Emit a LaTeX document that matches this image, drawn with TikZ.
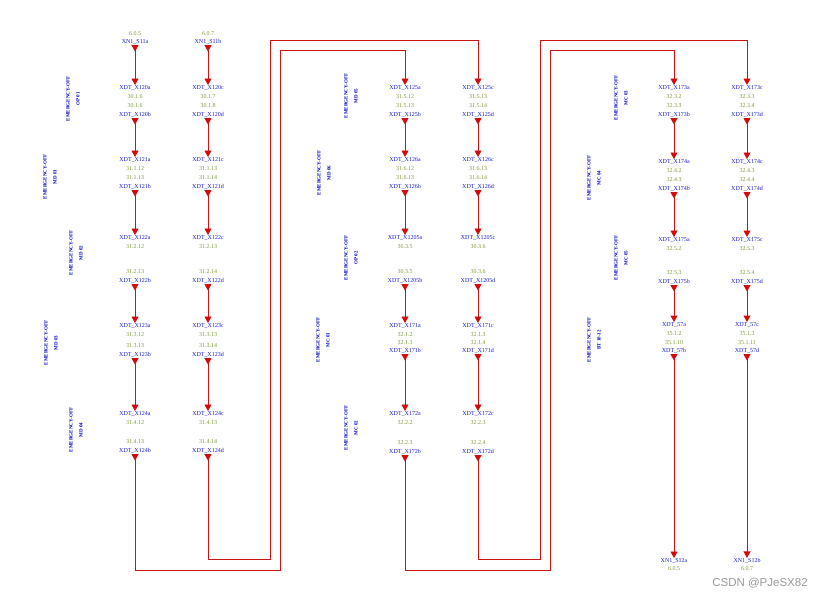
\documentclass[tikz,border=0pt]{standalone}
\usepackage{fontspec}
\setmainfont{Liberation Serif}
\newfontfamily\wmfont{Liberation Sans}
\usetikzlibrary{arrows.meta}
\definecolor{nmblue}{HTML}{1A1ACC}
\definecolor{numgreen}{HTML}{7F9A3A}
\definecolor{lblblue}{HTML}{0000C8}
\definecolor{wirered}{HTML}{C81414}
\tikzset{
  nm/.style={text=nmblue, font=\fontsize{6}{6.5}\selectfont, inner sep=0.4pt},
  num/.style={text=numgreen, font=\fontsize{6}{6.5}\selectfont, inner sep=0.4pt},
  lbl/.style={rotate=90, text=lblblue, font=\fontsize{5}{10}\selectfont\bfseries, align=center, inner sep=0pt},
  wire/.style={draw=wirered, line width=0.9pt,
    {Triangle[reversed,width=7pt,length=6.5pt,fill=red!90!black]}-{Triangle[width=7pt,length=6.5pt,fill=red!90!black]}},
}
\newcommand{\tl}[5]{\node[#4] (#1) at (#2,#3) {#5};}
\begin{document}
\begin{tikzpicture}[x=1pt,y=-1pt]
\useasboundingbox (0,0) rectangle (825,597);
% ---------------- left group ----------------
\tl{n605a}{135}{34}{num}{6.0.5}
\tl{S11a}{135}{42}{nm}{XN1\_S11a}
\tl{n607a}{208}{34}{num}{6.0.7}
\tl{S11b}{208}{42}{nm}{XN1\_S11b}
% OP 01
\node[lbl] (L1) at (73,99) {EMERGENCY-OFF\\OP 01};
\tl{X120a}{135}{88}{nm}{XDT\_X120a}
\tl{t1}{135}{97}{num}{30.1.6}
\tl{t2}{135}{106}{num}{30.1.6}
\tl{X120b}{135}{115}{nm}{XDT\_X120b}
\tl{X120c}{208}{88}{nm}{XDT\_X120c}
\tl{t3}{208}{97}{num}{30.1.7}
\tl{t4}{208}{106}{num}{30.1.8}
\tl{X120d}{208}{115}{nm}{XDT\_X120d}
% MD 01
\node[lbl] (L2) at (50,177) {EMERGENCY-OFF\\MD 01};
\tl{X121a}{135}{160}{nm}{XDT\_X121a}
\tl{t5}{135}{169}{num}{31.1.12}
\tl{t6}{135}{178}{num}{31.1.13}
\tl{X121b}{135}{187}{nm}{XDT\_X121b}
\tl{X121c}{208}{160}{nm}{XDT\_X121c}
\tl{t7}{208}{169}{num}{31.1.13}
\tl{t8}{208}{178}{num}{31.1.14}
\tl{X121d}{208}{187}{nm}{XDT\_X121d}
% MD 02
\node[lbl] (L3) at (76,253) {EMERGENCY-OFF\\MD 02};
\tl{X122a}{135}{238}{nm}{XDT\_X122a}
\tl{t9}{135}{247}{num}{31.2.12}
\tl{t10}{135}{272}{num}{31.2.13}
\tl{X122b}{135}{281}{nm}{XDT\_X122b}
\tl{X122c}{208}{238}{nm}{XDT\_X122c}
\tl{t11}{208}{247}{num}{31.2.13}
\tl{t12}{208}{272}{num}{31.2.14}
\tl{X122d}{208}{281}{nm}{XDT\_X122d}
% MD 03
\node[lbl] (L4) at (51,343) {EMERGENCY-OFF\\MD 03};
\tl{X123a}{135}{326}{nm}{XDT\_X123a}
\tl{t13}{135}{335}{num}{31.3.12}
\tl{t14}{135}{346}{num}{31.3.13}
\tl{X123b}{135}{355}{nm}{XDT\_X123b}
\tl{X123c}{208}{326}{nm}{XDT\_X123c}
\tl{t15}{208}{335}{num}{31.3.13}
\tl{t16}{208}{346}{num}{31.3.14}
\tl{X123d}{208}{355}{nm}{XDT\_X123d}
% MD 04
\node[lbl] (L5) at (76,430) {EMERGENCY-OFF\\MD 04};
\tl{X124a}{135}{414}{nm}{XDT\_X124a}
\tl{t17}{135}{423}{num}{31.4.12}
\tl{t18}{135}{442}{num}{31.4.13}
\tl{X124b}{135}{451}{nm}{XDT\_X124b}
\tl{X124c}{208}{414}{nm}{XDT\_X124c}
\tl{t19}{208}{423}{num}{31.4.13}
\tl{t20}{208}{442}{num}{31.4.14}
\tl{X124d}{208}{451}{nm}{XDT\_X124d}
% ---------------- middle group ----------------
\node[lbl] (L6) at (351,96) {EMERGENCY-OFF\\MD 05};
\tl{X125a}{405}{88}{nm}{XDT\_X125a}
\tl{t21}{405}{97}{num}{31.5.12}
\tl{t22}{405}{106}{num}{31.5.13}
\tl{X125b}{405}{115}{nm}{XDT\_X125b}
\tl{X125c}{478}{88}{nm}{XDT\_X125c}
\tl{t23}{478}{97}{num}{31.5.13}
\tl{t24}{478}{106}{num}{31.5.14}
\tl{X125d}{478}{115}{nm}{XDT\_X125d}
\node[lbl] (L7) at (324,173) {EMERGENCY-OFF\\MD 06};
\tl{X126a}{405}{160}{nm}{XDT\_X126a}
\tl{t25}{405}{169}{num}{31.6.12}
\tl{t26}{405}{178}{num}{31.6.13}
\tl{X126b}{405}{187}{nm}{XDT\_X126b}
\tl{X126c}{478}{160}{nm}{XDT\_X126c}
\tl{t27}{478}{169}{num}{31.6.13}
\tl{t28}{478}{178}{num}{31.6.14}
\tl{X126d}{478}{187}{nm}{XDT\_X126d}
\node[lbl] (L8) at (351,258) {EMERGENCY-OFF\\OP 02};
\tl{X1205a}{405}{238}{nm}{XDT\_X1205a}
\tl{t29}{405}{247}{num}{30.3.5}
\tl{t30}{405}{272}{num}{30.3.5}
\tl{X1205b}{405}{281}{nm}{XDT\_X1205b}
\tl{X1205c}{478}{238}{nm}{XDT\_X1205c}
\tl{t31}{478}{247}{num}{30.3.6}
\tl{t32}{478}{272}{num}{30.3.6}
\tl{X1205d}{478}{281}{nm}{XDT\_X1205d}
\node[lbl] (L9) at (323,340) {EMERGENCY-OFF\\MC 01};
\tl{X171a}{405}{326}{nm}{XDT\_X171a}
\tl{t33}{405}{335}{num}{32.1.2}
\tl{t34}{405}{343}{num}{32.1.3}
\tl{X171b}{405}{351}{nm}{XDT\_X171b}
\tl{X171c}{478}{326}{nm}{XDT\_X171c}
\tl{t35}{478}{335}{num}{32.1.3}
\tl{t36}{478}{343}{num}{32.1.4}
\tl{X171d}{478}{351}{nm}{XDT\_X171d}
\node[lbl] (L10) at (351,428) {EMERGENCY-OFF\\MC 02};
\tl{X172a}{405}{414}{nm}{XDT\_X172a}
\tl{t37}{405}{423}{num}{32.2.2}
\tl{t38}{405}{443}{num}{32.2.3}
\tl{X172b}{405}{452}{nm}{XDT\_X172b}
\tl{X172c}{478}{414}{nm}{XDT\_X172c}
\tl{t39}{478}{423}{num}{32.2.3}
\tl{t40}{478}{443}{num}{32.2.4}
\tl{X172d}{478}{452}{nm}{XDT\_X172d}
% ---------------- right group ----------------
\node[lbl] (L11) at (621,98) {EMERGENCY-OFF\\MC 03};
\tl{X173a}{674}{88}{nm}{XDT\_X173a}
\tl{t41}{674}{97}{num}{32.3.2}
\tl{t42}{674}{106}{num}{32.3.3}
\tl{X173b}{674}{115}{nm}{XDT\_X173b}
\tl{X173c}{747}{88}{nm}{XDT\_X173c}
\tl{t43}{747}{97}{num}{32.3.3}
\tl{t44}{747}{106}{num}{32.3.4}
\tl{X173d}{747}{115}{nm}{XDT\_X173d}
\node[lbl] (L12) at (594,178) {EMERGENCY-OFF\\MC 04};
\tl{X174a}{674}{162}{nm}{XDT\_X174a}
\tl{t45}{674}{171}{num}{32.4.2}
\tl{t46}{674}{180}{num}{32.4.3}
\tl{X174b}{674}{189}{nm}{XDT\_X174b}
\tl{X174c}{747}{162}{nm}{XDT\_X174c}
\tl{t47}{747}{171}{num}{32.4.3}
\tl{t48}{747}{180}{num}{32.4.4}
\tl{X174d}{747}{189}{nm}{XDT\_X174d}
\node[lbl] (L13) at (621,258) {EMERGENCY-OFF\\MC 05};
\tl{X175a}{674}{240}{nm}{XDT\_X175a}
\tl{t49}{674}{249}{num}{32.5.2}
\tl{t50}{674}{273}{num}{32.5.3}
\tl{X175b}{674}{282}{nm}{XDT\_X175b}
\tl{X175c}{747}{240}{nm}{XDT\_X175c}
\tl{t51}{747}{249}{num}{32.5.3}
\tl{t52}{747}{273}{num}{32.5.4}
\tl{X175d}{747}{282}{nm}{XDT\_X175d}
\node[lbl] (L14) at (594,340) {EMERGENCY-OFF\\BT 10-12};
\tl{X57a}{674}{325}{nm}{XDT\_57a}
\tl{t53}{674}{334}{num}{35.1.2}
\tl{t54}{674}{343}{num}{35.1.10}
\tl{X57b}{674}{351}{nm}{XDT\_57b}
\tl{X57c}{747}{325}{nm}{XDT\_57c}
\tl{t55}{747}{334}{num}{35.1.3}
\tl{t56}{747}{343}{num}{35.1.11}
\tl{X57d}{747}{351}{nm}{XDT\_57d}
% bottom
\tl{S12a}{674}{561}{nm}{XN1\_S12a}
\tl{n605b}{674}{569}{num}{6.0.5}
\tl{S12b}{747}{561}{nm}{XN1\_S12b}
\tl{n607b}{747}{569}{num}{6.0.7}
% ---------------- wires ----------------
\draw[wire] (S11a.south) -- (X120a.north);
\draw[wire] (S11b.south) -- (X120c.north);
\draw[wire] (X120b.south) -- (X121a.north);
\draw[wire] (X120d.south) -- (X121c.north);
\draw[wire] (X121b.south) -- (X122a.north);
\draw[wire] (X121d.south) -- (X122c.north);
\draw[wire] (X122b.south) -- (X123a.north);
\draw[wire] (X122d.south) -- (X123c.north);
\draw[wire] (X123b.south) -- (X124a.north);
\draw[wire] (X123d.south) -- (X124c.north);
\coordinate (a1) at (135,570); \coordinate (a2) at (280,570);
\coordinate (a3) at (280,50);  \coordinate (a4) at (405,50);
\coordinate (b1) at (208,559); \coordinate (b2) at (270,559);
\coordinate (b3) at (270,40);  \coordinate (b4) at (478,40);
\draw[wire] (X124b.south) -- (a1) -- (a2) -- (a3) -- (a4) -- (X125a.north);
\draw[wire] (X124d.south) -- (b1) -- (b2) -- (b3) -- (b4) -- (X125c.north);
\draw[wire] (X125b.south) -- (X126a.north);
\draw[wire] (X125d.south) -- (X126c.north);
\draw[wire] (X126b.south) -- (X1205a.north);
\draw[wire] (X126d.south) -- (X1205c.north);
\draw[wire] (X1205b.south) -- (X171a.north);
\draw[wire] (X1205d.south) -- (X171c.north);
\draw[wire] (X171b.south) -- (X172a.north);
\draw[wire] (X171d.south) -- (X172c.north);
\coordinate (c1) at (405,570); \coordinate (c2) at (550,570);
\coordinate (c3) at (550,50);  \coordinate (c4) at (674,50);
\coordinate (d1) at (478,559); \coordinate (d2) at (540,559);
\coordinate (d3) at (540,40);  \coordinate (d4) at (747,40);
\draw[wire] (X172b.south) -- (c1) -- (c2) -- (c3) -- (c4) -- (X173a.north);
\draw[wire] (X172d.south) -- (d1) -- (d2) -- (d3) -- (d4) -- (X173c.north);
\draw[wire] (X173b.south) -- (X174a.north);
\draw[wire] (X173d.south) -- (X174c.north);
\draw[wire] (X174b.south) -- (X175a.north);
\draw[wire] (X174d.south) -- (X175c.north);
\draw[wire] (X175b.south) -- (X57a.north);
\draw[wire] (X175d.south) -- (X57c.north);
\draw[wire] (X57b.south) -- (S12a.north);
\draw[wire] (X57d.south) -- (S12b.north);
% watermark
\node[text=black!40, font=\wmfont\fontsize{11.5}{12}\selectfont, inner sep=0pt] (wm) at (760,583) {CSDN @PJeSX82};
\end{tikzpicture}
\end{document}
